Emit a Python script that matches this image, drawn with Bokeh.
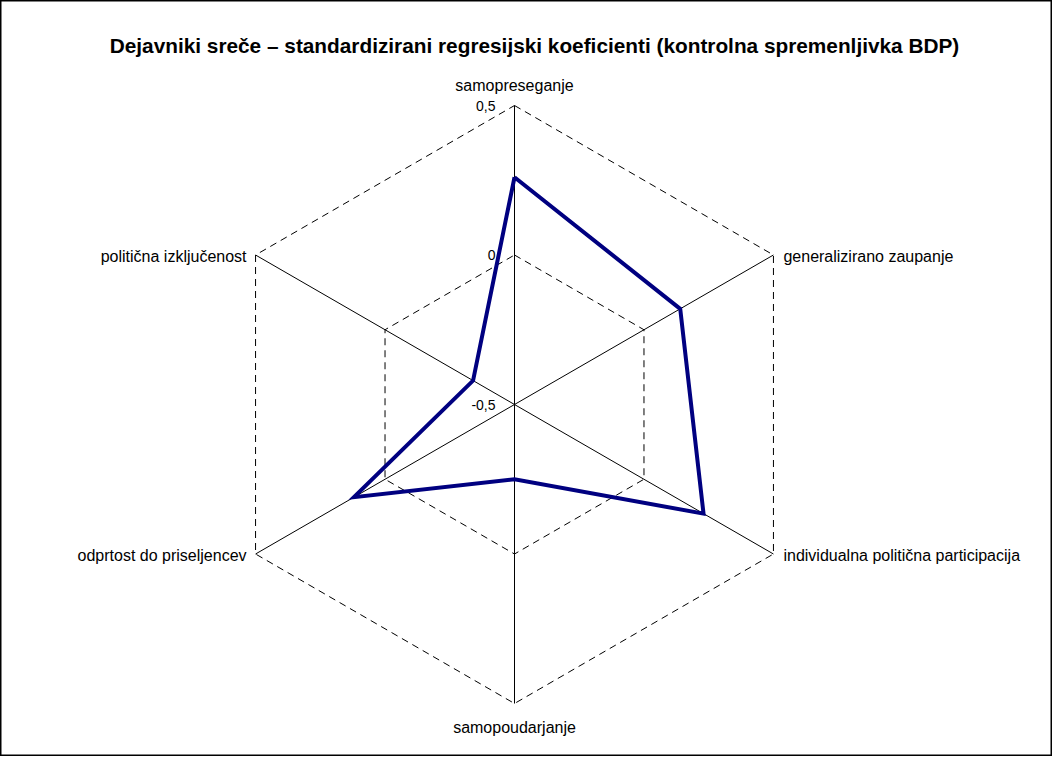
import numpy as np
from bokeh.plotting import figure
from bokeh.models import Range1d, Label
from bokeh.embed import file_html
from bokeh.resources import INLINE

# ---- data ----
categories = ["samopreseganje", "generalizirano zaupanje",
              "individualna politična participacija", "samopoudarjanje",
              "odprtost do priseljencev", "politična izključenost"]
values = [0.26, 0.14, 0.23, -0.25, 0.12, -0.34]
ticks = [-0.5, 0.0, 0.5]
tick_labels = ["-0,5", "0", "0,5"]
title = "Dejavniki sreče – standardizirani regresijski koeficienti (kontrolna spremenljivka BDP)"

# ---- geometry ----
R = 299.0
vmin, vmax = -0.5, 0.5
n = len(categories)
angles = [np.pi / 2 - i * 2 * np.pi / n for i in range(n)]

def rad(v):
    return (v - vmin) / (vmax - vmin) * R

W, H = 1052, 756
cx, cy = 522 - 8, 412 - 8  # center in frame pixels
p = figure(width=W, height=H, output_backend="svg", toolbar_location=None,
           x_range=Range1d(-cx, W - cx), y_range=Range1d(-(H - cy), cy),
           min_border=0)
p.axis.visible = False
p.grid.visible = False
p.outline_line_color = "black"
p.outline_line_width = 2
p.background_fill_color = "white"
p.border_fill_color = "white"

# grid rings (dashed)
for t in ticks[1:]:
    r = rad(t)
    xs = [r * np.cos(a) for a in angles] + [r * np.cos(angles[0])]
    ys = [r * np.sin(a) for a in angles] + [r * np.sin(angles[0])]
    p.line(xs, ys, line_color="black", line_width=1, line_dash="7 5")

# spokes
for a in angles:
    p.line([0, R * np.cos(a)], [0, R * np.sin(a)], line_color="black", line_width=1)

# data polygon
dx = [rad(v) * np.cos(a) for v, a in zip(values, angles)]
dy = [rad(v) * np.sin(a) for v, a in zip(values, angles)]
p.line(dx + [dx[0]], dy + [dy[0]], line_color="#000080", line_width=4,
       line_join="miter")

font = "Liberation Sans"
# tick labels along vertical axis
for t, lab in zip(ticks, tick_labels):
    p.add_layout(Label(x=-19, y=rad(t), text=lab, text_font=font,
                       text_font_size="14px", text_align="right",
                       text_baseline="middle", text_color="black"))

# category labels
fs = "16px"
for cat, a in zip(categories, angles):
    x, y = R * np.cos(a), R * np.sin(a)
    c = np.cos(a)
    kw = dict(text=cat, text_font=font, text_font_size=fs, text_color="black",
              text_baseline="middle")
    if abs(c) < 1e-6:
        if np.sin(a) > 0:
            p.add_layout(Label(x=x, y=y + 20, text_align="center", **kw))
        else:
            p.add_layout(Label(x=x, y=y - 24, text_align="center", **kw))
    elif c > 0:
        p.add_layout(Label(x=x + 10, y=y - 1, text_align="left", **kw))
    else:
        p.add_layout(Label(x=x - 9, y=y - 1, text_align="right", **kw))

# title
p.add_layout(Label(x=542 - 522, y=412 - 53, text=title, text_font=font,
                   text_font_size="20.8px", text_font_style="bold",
                   text_color="black",
                   text_align="center", text_baseline="middle"))

open("out.html", "w").write(file_html(p, INLINE))
